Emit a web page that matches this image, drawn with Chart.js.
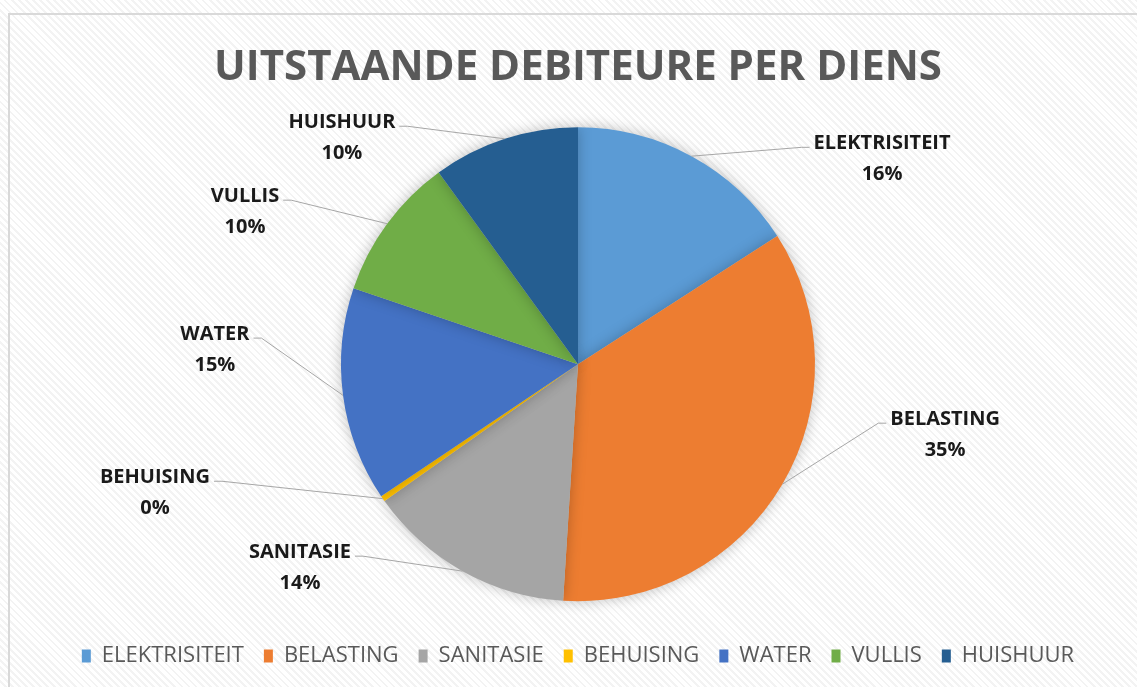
<!DOCTYPE html>
<html>
<head>
<meta charset="utf-8">
<script src="https://cdn.jsdelivr.net/npm/chart.js@4"></script>
<style>
  html, body { margin: 0; padding: 0; }
  body {
    width: 1137px; height: 687px; overflow: hidden; position: relative;
    background: repeating-linear-gradient(45deg, #ffffff 0px, #ffffff 3px, #f3f3f3 3px, #f3f3f3 5px);
  }
  #frame {
    position: absolute; left: 8px; top: 13px; width: 1140px; height: 690px;
    border: 2px solid #d9d9d9; box-sizing: border-box;
  }
  #wrap { position: absolute; left: 0; top: 0; width: 1137px; height: 687px; }
</style>
</head>
<body>
<div id="frame"></div>
<div id="wrap"><canvas id="pieChart" width="1137" height="687"></canvas></div>
<script>
const categories = ['ELEKTRISITEIT', 'BELASTING', 'SANITASIE', 'BEHUISING', 'WATER', 'VULLIS', 'HUISHUUR'];
const shares = [15.9, 35.1, 14.2, 0.4, 14.6, 9.8, 10.0];
const sliceColors = ['#5B9BD5', '#ED7D31', '#A5A5A5', '#FFC000', '#4472C4', '#70AD47', '#255E91'];

// label spots, in units of the pie radius from its centre
const labelSpots = [[1.283, -0.932], [1.549, 0.232], [-1.173, 0.793], [-1.785, 0.477], [-1.532, -0.127], [-1.405, -0.709], [-0.996, -1.021]];

const pieShadow = {
  id: 'pieShadow',
  beforeDatasetsDraw(chart) {
    const ctx = chart.ctx;
    ctx.save();
    ctx.shadowColor = 'rgba(0,0,0,0.25)';
    ctx.shadowBlur = 14;
  },
  afterDatasetsDraw(chart) {
    chart.ctx.restore();
  }
};

const outsideLabels = {
  id: 'outsideLabels',
  afterDatasetsDraw(chart) {
    const ctx = chart.ctx;
    const meta = chart.getDatasetMeta(0);
    const total = shares.reduce((a, b) => a + b, 0);
    ctx.save();
    ctx.font = 'bold 20px "Open Sans"';
    ctx.textAlign = 'center';
    ctx.textBaseline = 'middle';
    meta.data.forEach((arc, i) => {
      const p = arc.getProps(['x', 'y', 'startAngle', 'endAngle', 'outerRadius'], true);
      const mid = (p.startAngle + p.endAngle) / 2;
      const ax = p.x + Math.cos(mid) * p.outerRadius;
      const ay = p.y + Math.sin(mid) * p.outerRadius;
      const lx = p.x + labelSpots[i][0] * p.outerRadius;
      const ly = p.y + labelSpots[i][1] * p.outerRadius;
      const w = ctx.measureText(categories[i]).width;
      const side = labelSpots[i][0] > 0 ? -1 : 1;
      const sx = lx + side * (w / 2 + 4);
      const sy = ly + 4;
      ctx.strokeStyle = '#a6a6a6';
      ctx.lineWidth = 1;
      ctx.beginPath();
      ctx.moveTo(sx, sy);
      ctx.lineTo(sx + side * 8, sy);
      ctx.lineTo(ax, ay);
      ctx.stroke();
      ctx.fillStyle = '#1a1a1a';
      ctx.fillText(categories[i], lx, ly);
      ctx.fillText(Math.round(shares[i] / total * 100) + '%', lx, ly + 31);
    });
    ctx.restore();
  }
};

new Chart('pieChart', {
  type: 'pie',
  data: {
    labels: categories,
    datasets: [{
      data: shares,
      backgroundColor: sliceColors,
      borderWidth: 0,
      radius: 237
    }]
  },
  options: {
    responsive: false,
    animation: false,
    layout: { padding: { top: 0, left: 29, right: 10, bottom: 10 } },
    plugins: {
      title: {
        display: true,
        text: 'UITSTAANDE DEBITEURE PER DIENS',
        color: '#595959',
        font: { family: '"Open Sans"', size: 42, weight: 'bold' },
        padding: { top: 43, bottom: 10 }
      },
      legend: {
        position: 'bottom',
        labels: {
          color: '#595959',
          font: { family: '"Open Sans"', size: 22 },
          boxWidth: 9,
          boxHeight: 13,
          padding: 20
        }
      },
      tooltip: { enabled: false }
    }
  },
  plugins: [pieShadow, outsideLabels]
});
</script>
</body>
</html>
